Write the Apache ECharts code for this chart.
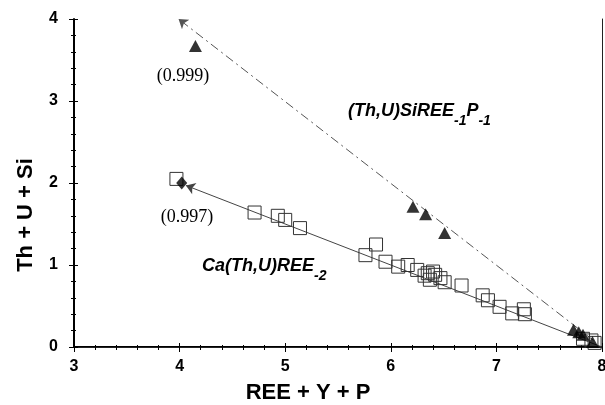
<!DOCTYPE html>
<html><head><meta charset="utf-8">
<script src="https://cdn.jsdelivr.net/npm/echarts@6/dist/echarts.min.js"></script>
<style>html,body{margin:0;padding:0;background:#fff}#c{width:605px;height:405px}</style>
</head><body><div id="c"></div>
<script>
// Ca(Th,U)REE-2 substitution samples (open squares)
const squaresX = [3.97, 4.71, 4.93, 5.00, 5.14, 5.76, 5.86, 5.95, 6.07, 6.16, 6.25, 6.32, 6.37, 6.42, 6.47, 6.51, 6.40, 6.35, 6.67, 6.87, 6.92, 7.03, 7.15, 7.26, 7.27, 7.82, 7.90, 7.93];
const squaresY = [2.05, 1.64, 1.60, 1.55, 1.45, 1.12, 1.25, 1.04, 0.98, 1.00, 0.94, 0.87, 0.82, 0.88, 0.84, 0.79, 0.92, 0.90, 0.75, 0.63, 0.57, 0.49, 0.41, 0.46, 0.40, 0.10, 0.08, 0.05];
// (Th,U)SiREE-1P-1 substitution samples (filled triangles)
const trianglesX = [4.15, 6.21, 6.33, 6.51, 7.73, 7.78, 7.82, 7.91];
const trianglesY = [3.67, 1.71, 1.62, 1.39, 0.21, 0.18, 0.15, 0.06];
// end-member (filled diamond)
const diamondX = [4.02];
const diamondY = [2.00];
// trend lines (from far end towards the arrow tip)
const lineCaX = [8.00, 4.06];
const lineCaY = [0.00, 1.97];
const lineSiX = [7.92, 3.99];
const lineSiY = [0.08, 4.00];
// axes
const xMin = 3, xMax = 8, yMin = 0, yMax = 4;
const xTickLabels = ['3', '4', '5', '6', '7', '8'];
const yTickLabels = ['0', '1', '2', '3', '4'];
const xTitle = 'REE + Y + P';
const yTitle = 'Th + U + Si';

const zip = (a, b) => a.map((v, i) => [v, b[i]]);

const chart = echarts.init(document.getElementById('c'), null, {renderer: 'canvas'});
const tickFont = {fontFamily: 'Liberation Sans', fontWeight: 700, fontSize: 16, color: '#000'};
const gridPos = {left: 74, right: 3, top: 19, bottom: 58, containLabel: false, outerBoundsMode: 'none'};

const baseX = {type: 'value', min: xMin, max: xMax, interval: 1, splitLine: {show: false}};
const baseY = {type: 'value', min: yMin, max: yMax, interval: 1, splitLine: {show: false}};

chart.setOption({
  animation: false,
  backgroundColor: '#fff',
  grid: [Object.assign({}, gridPos), Object.assign({}, gridPos)],
  xAxis: [
    Object.assign({}, baseX, {
      gridIndex: 0, position: 'bottom',
      axisLine: {show: true, lineStyle: {color: '#000', width: 2}},
      axisTick: {show: true, inside: false, length: 5, lineStyle: {color: '#000', width: 1}},
      minorTick: {show: true, splitNumber: 5, length: 3, lineStyle: {color: '#000', width: 1}},
      axisLabel: Object.assign({margin: 12, formatter: v => xTickLabels[Math.round(v - xMin)]}, tickFont),
      name: xTitle, nameLocation: 'middle', nameGap: 35,
      nameTextStyle: {fontFamily: 'Liberation Sans', fontWeight: 'bold', fontSize: 22, color: '#000', padding: [0, 60, 0, 0]}
    }),
    Object.assign({}, baseX, {
      gridIndex: 0, position: 'top',
      axisLine: {show: true, lineStyle: {color: '#222', width: 1}},
      axisTick: {show: false}, axisLabel: {show: false}
    }),
    Object.assign({}, baseX, {
      gridIndex: 1, position: 'bottom',
      axisLine: {show: false},
      axisTick: {show: true, inside: true, length: 4, lineStyle: {color: '#000', width: 1}},
      minorTick: {show: true, splitNumber: 5, length: 2, lineStyle: {color: '#000', width: 1}},
      axisLabel: {show: false}
    })
  ],
  yAxis: [
    Object.assign({}, baseY, {
      gridIndex: 0, position: 'left',
      axisLine: {show: true, lineStyle: {color: '#000', width: 2}},
      axisTick: {show: true, inside: false, length: 5, lineStyle: {color: '#000', width: 1}},
      minorTick: {show: true, splitNumber: 5, length: 3, lineStyle: {color: '#000', width: 1}},
      axisLabel: Object.assign({margin: 16, formatter: v => yTickLabels[Math.round(v - yMin)]}, tickFont),
      name: yTitle, nameLocation: 'middle', nameGap: 37,
      nameTextStyle: {fontFamily: 'Liberation Sans', fontWeight: 'bold', fontSize: 22, color: '#000', padding: [0, 64, 0, 0]}
    }),
    Object.assign({}, baseY, {
      gridIndex: 0, position: 'right',
      axisLine: {show: true, lineStyle: {color: '#222', width: 1}},
      axisTick: {show: false}, axisLabel: {show: false}
    }),
    Object.assign({}, baseY, {
      gridIndex: 1, position: 'left',
      axisLine: {show: false},
      axisTick: {show: true, inside: true, length: 4, lineStyle: {color: '#000', width: 1}},
      minorTick: {show: true, splitNumber: 5, length: 2, lineStyle: {color: '#000', width: 1}},
      axisLabel: {show: false}
    })
  ],
  series: [
    {
      type: 'lines', coordinateSystem: 'cartesian2d', xAxisIndex: 0, yAxisIndex: 0,
      symbol: ['none', 'arrow'], symbolSize: 9, z: 1,
      lineStyle: {color: '#444', width: 1, type: 'solid', opacity: 1},
      data: [{coords: zip(lineCaX, lineCaY)}]
    },
    {
      type: 'lines', coordinateSystem: 'cartesian2d', xAxisIndex: 0, yAxisIndex: 0,
      symbol: ['none', 'arrow'], symbolSize: 9, z: 1,
      lineStyle: {color: '#555', width: 1, type: [9, 4, 2, 4], opacity: 1},
      data: [{coords: zip(lineSiX, lineSiY)}]
    },
    {
      type: 'scatter', xAxisIndex: 0, yAxisIndex: 0, symbol: 'rect', symbolSize: 13, z: 3,
      itemStyle: {color: 'rgba(255,255,255,0)', borderColor: '#333', borderWidth: 1, opacity: 1},
      data: zip(squaresX, squaresY)
    },
    {
      type: 'scatter', xAxisIndex: 0, yAxisIndex: 0, symbol: 'triangle', symbolSize: [13, 12], z: 4,
      itemStyle: {color: '#000'},
      data: zip(trianglesX, trianglesY)
    },
    {
      type: 'scatter', xAxisIndex: 0, yAxisIndex: 0, symbol: 'diamond', symbolSize: [11, 13], z: 4,
      itemStyle: {color: '#000'},
      data: zip(diamondX, diamondY)
    }
  ],
  graphic: [
    {type: 'text', x: 183, y: 76, style: {text: '(0.999)', font: '18px "Liberation Serif", serif', fill: '#000', align: 'center', verticalAlign: 'middle'}},
    {type: 'text', x: 187, y: 217, style: {text: '(0.997)', font: '18px "Liberation Serif", serif', fill: '#000', align: 'center', verticalAlign: 'middle'}},
    {type: 'text', x: 348, y: 111, style: {
      text: '{a|(Th,U)SiREE}{s|-1}{a|P}{s|-1}', align: 'left', verticalAlign: 'middle',
      rich: {
        a: {fontFamily: 'Liberation Sans', fontStyle: 'italic', fontWeight: 'bold', fontSize: 18, color: '#000'},
        s: {fontFamily: 'Liberation Sans', fontStyle: 'italic', fontWeight: 'bold', fontSize: 14, color: '#000', padding: [20, 0, 0, 0]}
      }
    }},
    {type: 'text', x: 202, y: 266, style: {
      text: '{a|Ca(Th,U)REE}{s|-2}', align: 'left', verticalAlign: 'middle',
      rich: {
        a: {fontFamily: 'Liberation Sans', fontStyle: 'italic', fontWeight: 'bold', fontSize: 18, color: '#000'},
        s: {fontFamily: 'Liberation Sans', fontStyle: 'italic', fontWeight: 'bold', fontSize: 14, color: '#000', padding: [20, 0, 0, 0]}
      }
    }}
  ]
});
</script></body></html>
